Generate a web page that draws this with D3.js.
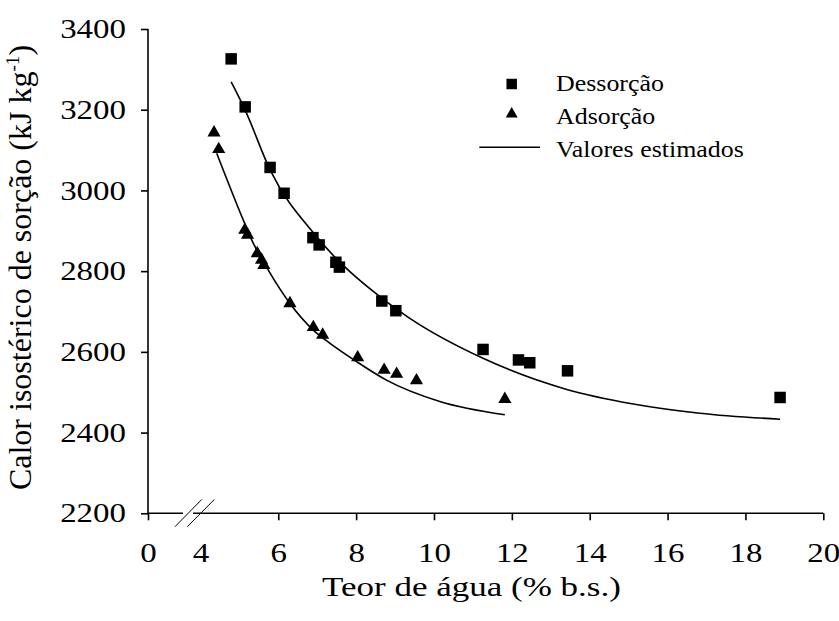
<!DOCTYPE html>
<html>
<head>
<meta charset="utf-8">
<script src="https://cdn.jsdelivr.net/npm/d3@7"></script>
<style>
  body { margin: 0; background: #fff; }
  svg text { font-family: "Liberation Serif", "Times New Roman", serif; }
</style>
</head>
<body>
<div id="chart"></div>
<script>
// Dessorção (squares)
const desX = [4.79, 5.15, 5.79, 6.15, 6.89, 7.05, 7.48, 7.57, 8.66, 9.02, 11.26, 12.17, 12.46, 13.43, 18.89];
const desY = [3326, 3207, 3057, 2993, 2883, 2865, 2822, 2810, 2726, 2702, 2606, 2580, 2573, 2553, 2487];

// Adsorção (triangles)
const adsX = [4.35, 4.47, 5.14, 5.21, 5.46, 5.57, 5.63, 6.30, 6.90, 7.14, 8.04, 8.72, 9.04, 9.55, 11.82];
const adsY = [3143, 3102, 2902, 2890, 2844, 2828, 2815, 2720, 2661, 2642, 2586, 2555, 2545, 2529, 2483];

// Valores estimados (fitted curves)
const desFitX = [4.79, 5.15, 5.79, 6.99, 8.66, 9.38, 11.26, 13.41, 15.12, 16.83, 18.89];
const desFitY = [3269, 3199, 3051, 2885, 2733, 2683, 2584, 2507, 2471, 2448, 2433];
const adsFitX = [4.42, 5.10, 5.32, 5.74, 6.30, 6.90, 7.33, 8.01, 8.78, 10.15, 11.82];
const adsFitY = [3092, 2927, 2877, 2803, 2720, 2654, 2621, 2576, 2530, 2477, 2444];

const xTicks = [0, 4, 6, 8, 10, 12, 14, 16, 18, 20];
const yTicks = [2200, 2400, 2600, 2800, 3000, 3200, 3400];
const legendLabels = ["Dessorção", "Adsorção", "Valores estimados"];

/**
 * Proportions
 */
let svgWidth = 839;
let svgHeight = 621;

let axisLeft = 148;
let axisBottom = 513.3;
let axisTop = 29;
let breakStart = 200.4;   // where x = 4 sits
let axisRight = 823.3;

let tickLength = 7;
let fontFamily = "Liberation Serif, Times New Roman, serif";
let tickFont = 27;
let tickStretch = 1.22;   // the source picture is a bit wider than tall
let titleFont = 28;
let titleStretch = 1.25;
let yTitleFont = 32;
let legendFont = 24;
let legendStretch = 1.08;

const x = d3.scaleLinear()
    .domain([0, 4, 20])
    .range([axisLeft, breakStart, axisRight]);

const y = d3.scaleLinear()
    .domain([2200, 3400])
    .range([axisBottom, axisTop]);

const svg = d3.select("#chart")
    .append("svg")
    .attr("width", svgWidth)
    .attr("height", svgHeight)
    .style("font-family", fontFamily);

drawAxes();
drawCurves();
drawPoints();
drawLegend();

/**
 * Stretch a text sideways around its own anchor
 */
function stretchText(sel, sx) {
    sel.each(function () {
        const t = d3.select(this);
        const tx = +t.attr("x") || 0;
        const ty = +t.attr("y") || 0;
        t.attr("x", 0)
            .attr("y", 0)
            .attr("transform", `translate(${tx}, ${ty}) scale(${sx}, 1)`);
    });
}

/**
 * Axes, with the break between 0 and 4
 */
function drawAxes() {
    const xAxis = svg.append("g")
        .attr("transform", `translate(0, ${axisBottom})`)
        .call(d3.axisBottom(x).tickValues(xTicks).tickSize(tickLength).tickPadding(23).tickFormat(d3.format("d")));
    xAxis.select(".domain").attr("d", `M${axisLeft},0H${axisRight}`);
    xAxis.selectAll(".tick").filter(d => d === 4).select("line").remove();

    const yAxis = svg.append("g")
        .attr("transform", `translate(${axisLeft}, 0)`)
        .call(d3.axisLeft(y).tickValues(yTicks).tickSize(tickLength).tickPadding(15).tickFormat(d3.format("d")));
    yAxis.select(".domain").attr("d", `M0,${axisTop}V${axisBottom}`);

    svg.selectAll("g").attr("font-family", null).attr("font-size", null);

    svg.selectAll(".domain, .tick line")
        .attr("stroke", "black")
        .attr("stroke-width", 1.6);
    svg.selectAll(".tick text")
        .attr("font-family", fontFamily)
        .style("font-family", fontFamily)
        .attr("font-size", tickFont)
        .attr("fill", "black")
        .call(stretchText, tickStretch);

    // break marks
    const brk = svg.append("g");
    brk.append("rect")
        .attr("x", 183)
        .attr("y", axisBottom - 3)
        .attr("width", 10)
        .attr("height", 6)
        .attr("fill", "white");
    [[175, 201.7], [187.3, 214.3]].forEach(p => {
        brk.append("line")
            .attr("x1", p[0]).attr("y1", 526.7)
            .attr("x2", p[1]).attr("y2", 499.5)
            .attr("stroke", "black")
            .attr("stroke-width", 1);
    });

    svg.append("text")
        .attr("x", 471.5)
        .attr("y", 596)
        .attr("text-anchor", "middle")
        .attr("font-family", fontFamily)
        .attr("font-size", titleFont)
        .text("Teor de água (% b.s.)")
        .call(stretchText, titleStretch);

    const yTitle = svg.append("text")
        .attr("transform", `translate(31, 267.5) rotate(-90)`)
        .attr("text-anchor", "middle")
        .attr("font-family", fontFamily)
        .attr("font-size", yTitleFont);
    yTitle.append("tspan").text("Calor isostérico de sorção (kJ kg");
    yTitle.append("tspan").attr("font-size", yTitleFont * 0.6).attr("dy", -12).text("-1");
    yTitle.append("tspan").attr("dy", 12).text(")");
}

/**
 * Fitted curves
 */
function drawCurves() {
    const line = d3.line()
        .x(d => x(d[0]))
        .y(d => y(d[1]))
        .curve(d3.curveMonotoneX);
    [d3.zip(desFitX, desFitY), d3.zip(adsFitX, adsFitY)].forEach(pts => {
        svg.append("path")
            .attr("d", line(pts))
            .attr("fill", "none")
            .attr("stroke", "black")
            .attr("stroke-width", 1.6);
    });
}

/**
 * Points
 */
function drawPoints() {
    svg.append("g")
        .selectAll("path")
        .data(d3.zip(desX, desY))
        .enter()
        .append("path")
        .attr("transform", d => `translate(${x(d[0])}, ${y(d[1])})`)
        .attr("d", d3.symbol(d3.symbolSquare, 132)())
        .attr("fill", "black");

    svg.append("g")
        .selectAll("path")
        .data(d3.zip(adsX, adsY))
        .enter()
        .append("path")
        .attr("transform", d => `translate(${x(d[0])}, ${y(d[1])})`)
        .attr("d", d3.symbol(d3.symbolTriangle, 75)())
        .attr("fill", "black");
}

/**
 * Legend
 */
function drawLegend() {
    const lg = svg.append("g");
    lg.append("path")
        .attr("transform", "translate(511.7, 84)")
        .attr("d", d3.symbol(d3.symbolSquare, 110)())
        .attr("fill", "black");
    lg.append("path")
        .attr("transform", "translate(511.7, 114)")
        .attr("d", d3.symbol(d3.symbolTriangle, 62)())
        .attr("fill", "black");
    lg.append("line")
        .attr("x1", 479.3).attr("x2", 540)
        .attr("y1", 147.3).attr("y2", 147.3)
        .attr("stroke", "black")
        .attr("stroke-width", 1.6);

    lg.selectAll("text")
        .data(legendLabels)
        .enter()
        .append("text")
        .attr("x", 556)
        .attr("y", (_, i) => 91 + i * 33)
        .attr("font-family", fontFamily)
        .attr("font-size", legendFont)
        .text(d => d)
        .call(stretchText, legendStretch);
}
</script>
</body>
</html>
